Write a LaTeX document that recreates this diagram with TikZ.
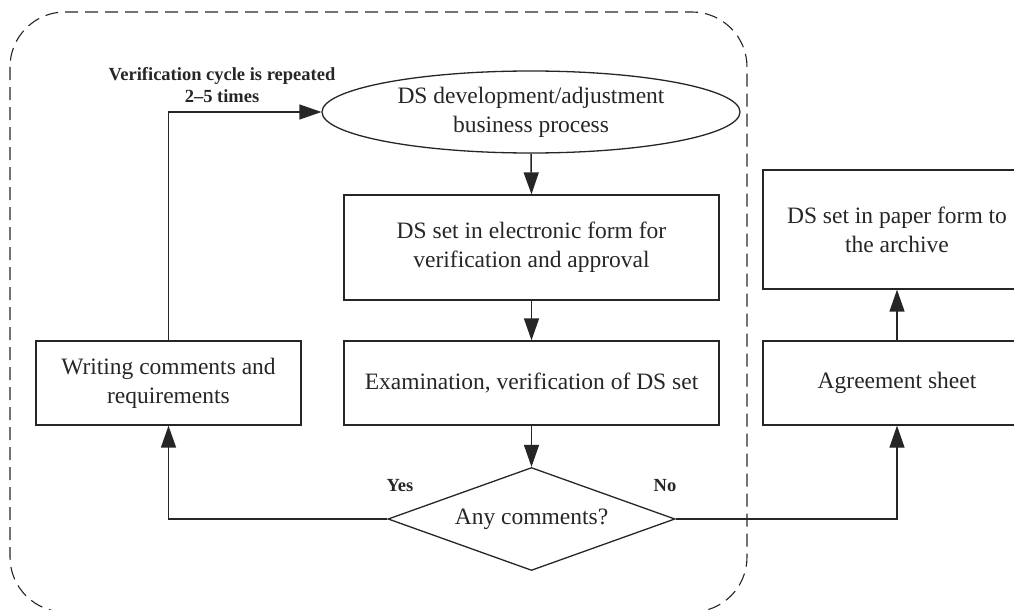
\documentclass[tikz,border=0pt]{standalone}
\usepackage{fontspec}
\setmainfont{Liberation Serif}
\usetikzlibrary{shapes.geometric,arrows.meta}
\begin{document}
\begin{tikzpicture}[x=1pt,y=-1pt,
  txt/.style={font=\fontsize{23.5}{29}\selectfont, align=center, text=black!85},
  lbl/.style={font=\fontsize{18.5}{22}\selectfont\bfseries, align=center, text=black!85},
  boxn/.style={txt, draw=black!85, line width=1.3pt, rectangle, inner sep=0pt},
  arr/.style={draw=black!85, line width=1.5pt, -{Triangle[length=22pt,width=15pt]}},
  conn/.style={draw=black!85, line width=1.3pt}]
\useasboundingbox (0,0) rectangle (1014,610);
\draw[draw=black!85, line width=1.1pt, dash pattern=on 13pt off 7pt, rounded corners=55pt] (10,12) rectangle (747,612);

\node[txt, draw=black!85, line width=1.3pt, ellipse, minimum width=418pt, minimum height=82pt, inner sep=0pt] (dev) at (531,112) {DS development/adjustment\\business process};
\node[boxn, minimum width=375pt, minimum height=105pt] (elec) at (531.5,247.5) {DS set in electronic form for\\verification and approval};
\node[boxn, minimum width=375pt, minimum height=84pt] (exam) at (531.5,383) {Examination, verification of DS set};
\node[txt, draw=black!85, line width=1.3pt, diamond, shape aspect=2.79, minimum width=287pt, minimum height=103pt, inner sep=0pt] (any) at (531.5,519) {Any comments?};
\node[boxn, minimum width=265pt, minimum height=84pt] (write) at (168.5,383) {Writing comments and\\requirements};
\node[boxn, minimum width=268pt, minimum height=84pt] (agree) at (897,383) {Agreement sheet};
\node[boxn, minimum width=268pt, minimum height=119pt] (paper) at (897,229.5) {DS set in paper form to\\the archive};

\node[lbl] (cyc) at (222,85) {Verification cycle is repeated\\2--5 times};
\node[lbl] (yes) at (400,486) {Yes};
\node[lbl] (no) at (665,486) {No};

\draw[arr] (dev.south) -- (elec.north);
\draw[arr] (elec.south) -- (exam.north);
\draw[arr] (exam.south) -- (any.north);
\draw[arr] (any.west) -| (write.south);
\draw[arr, line width=1.3pt] (write.north) |- (dev.west);
\draw[arr, line width=1.3pt] (any.east) -| (agree.south);
\draw[arr] (agree.north) -- (paper.south);
\end{tikzpicture}
\end{document}
